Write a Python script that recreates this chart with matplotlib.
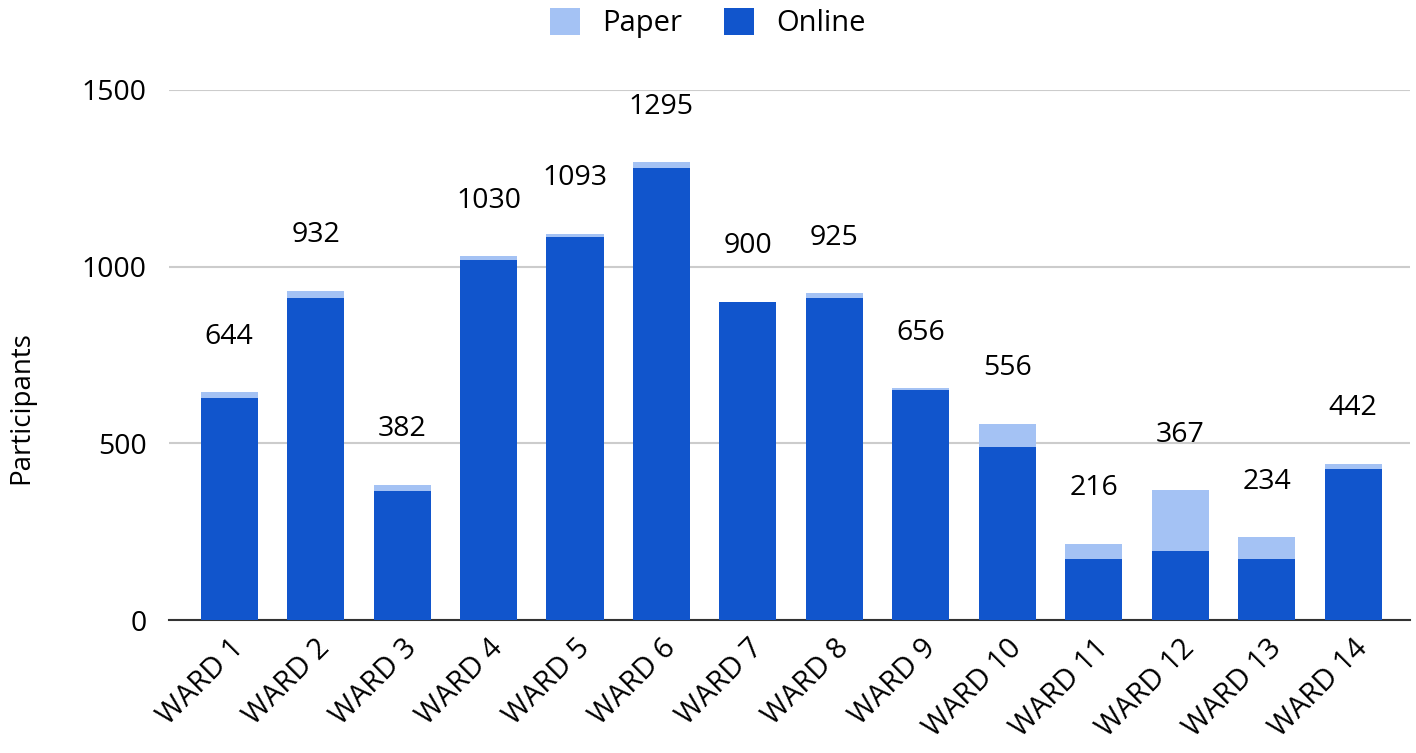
import matplotlib.pyplot as plt
import matplotlib.transforms as mtransforms
import numpy as np

wards = ['WARD 1', 'WARD 2', 'WARD 3', 'WARD 4', 'WARD 5', 'WARD 6', 'WARD 7',
         'WARD 8', 'WARD 9', 'WARD 10', 'WARD 11', 'WARD 12', 'WARD 13', 'WARD 14']
totals = [644, 932, 382, 1030, 1093, 1295, 900, 925, 656, 556, 216, 367, 234, 442]
online = [627, 910, 366, 1020, 1085, 1278, 900, 910, 650, 490, 173, 194, 173, 427]
paper = [t - o for t, o in zip(totals, online)]

c_online = '#1155cc'
c_paper = '#a4c2f4'

plt.rcParams['font.family'] = ['Open Sans', 'DejaVu Sans']

fig = plt.figure(figsize=(14.16, 7.53), dpi=100)
ax = fig.add_axes([0.1193, 0.1766, 0.8764, 0.7039])

x = np.arange(len(wards))
ax.bar(x, online, width=0.66, color=c_online, label='Online', zorder=3)
ax.bar(x, paper, width=0.66, bottom=online, color=c_paper, label='Paper', zorder=3)

# value labels above each stack
for xi, t in zip(x, totals):
    ax.annotate(str(t), (xi, t), xytext=(0, 40), textcoords='offset points',
                ha='center', va='center', fontsize=20.5, color='#000000')

ax.set_xlim(-0.696, len(wards) - 1 + 0.656)
ax.set_ylim(0, 1500)
ax.set_yticks([0, 500, 1000, 1500])
ax.grid(axis='y', color='#cccccc', linewidth=1.5, zorder=0)
ax.tick_params(axis='both', length=0, labelsize=20.5, colors='#000000')
ax.tick_params(axis='y', pad=16)
ax.set_xticks(x)
ax.set_xticklabels(wards, rotation=45, ha='right', rotation_mode='anchor', fontsize=21)
shift = mtransforms.ScaledTranslation(6 / 72, -10 / 72, fig.dpi_scale_trans)
for lab in ax.get_xticklabels():
    lab.set_transform(lab.get_transform() + shift)
ax.tick_params(axis='x', pad=10)
for s in ['top', 'right', 'left']:
    ax.spines[s].set_visible(False)
ax.spines['bottom'].set_color('#333333')
ax.spines['bottom'].set_linewidth(1.5)
ax.set_ylabel('Participants', fontsize=20)
ax.yaxis.set_label_coords(-0.108, 0.40)

h, l = ax.get_legend_handles_labels()
fig.legend(h[::-1], l[::-1], loc='center', bbox_to_anchor=(0.5, 1 - 23 / 753), ncol=2,
           frameon=False, fontsize=21, handlelength=1.03, handleheight=1.03,
           columnspacing=1.45, handletextpad=0.75, borderpad=0)

fig.savefig('out.png', dpi=100)
